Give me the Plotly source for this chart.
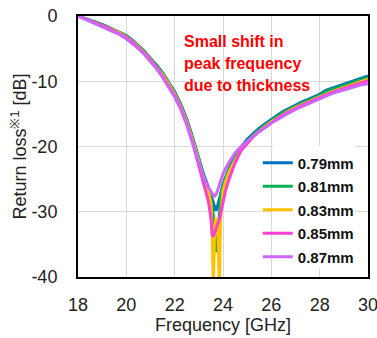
import plotly.graph_objects as go

freq = [18.0, 18.25, 18.5, 18.75, 19.0, 19.25, 19.5, 19.75, 20.0, 20.25, 20.5, 20.75,
        21.0, 21.25, 21.5, 21.75, 22.0, 22.25, 22.5, 22.75, 23.0,
        23.2, 23.4, 23.5, 23.55, 23.6, 23.65, 23.7, 23.75, 23.8, 23.85, 23.9, 24.0, 24.1,
        24.25, 24.5, 24.75, 25.0, 25.25, 25.5, 25.75, 26.0, 26.25, 26.5, 26.75, 27.0,
        27.25, 27.5, 27.75, 28.0, 28.25, 28.5, 28.75, 29.0, 29.25, 29.5, 29.75, 30.0]

rl_079 = [0.0, -0.3, -0.6, -0.95, -1.3, -1.7, -2.1, -2.5, -3.0, -3.7, -4.5, -5.4,
          -6.5, -7.5, -8.7, -10.1, -11.6, -13.5, -15.8, -18.7, -22.0,
          -24.3, -26.3, -27.5, -28.2, -28.8, -29.3, -29.8, -29.5, -28.7, -27.8, -27.0, -25.8, -24.8,
          -23.4, -21.6, -20.1, -18.9, -18.0, -17.2, -16.5, -15.8, -15.2, -14.6, -14.1, -13.6,
          -13.2, -12.8, -12.4, -12.0, -11.4, -11.1, -10.8, -10.5, -10.1, -9.8, -9.5, -9.2]

rl_081 = [0.0, -0.3, -0.65, -1.0, -1.35, -1.75, -2.15, -2.6, -3.1, -3.8, -4.6, -5.5,
          -6.6, -7.6, -8.8, -10.2, -11.8, -13.7, -16.0, -18.9, -22.2,
          -24.5, -26.7, -28.0, -29.0, -30.5, -33.0, -35.5, -36.2, -33.0, -29.5, -27.5, -26.0, -25.0,
          -23.6, -21.8, -20.3, -19.1, -18.2, -17.4, -16.7, -16.0, -15.4, -14.8, -14.3, -13.8,
          -13.4, -13.0, -12.6, -12.2, -11.6, -11.3, -11.0, -10.7, -10.3, -10.0, -9.7, -9.4]

rl_083 = [0.0, -0.35, -0.7, -1.05, -1.4, -1.8, -2.2, -2.65, -3.2, -3.9, -4.7, -5.6,
          -6.7, -7.8, -9.0, -10.4, -12.0, -13.9, -16.2, -19.1, -22.5,
          -24.8, -27.0, -28.6, -33.0, -41.5, -33.5, -31.0, -31.5, -34.5, -41.5, -31.0, -26.8, -25.4,
          -23.9, -22.1, -20.6, -19.4, -18.4, -17.6, -16.9, -16.2, -15.6, -15.0, -14.5, -14.0,
          -13.6, -13.2, -12.8, -12.4, -11.9, -11.6, -11.3, -11.0, -10.6, -10.3, -10.0, -9.7]

rl_085 = [0.0, -0.35, -0.7, -1.1, -1.45, -1.85, -2.3, -2.75, -3.3, -4.0, -4.8, -5.7,
          -6.8, -7.9, -9.2, -10.6, -12.2, -14.1, -16.5, -19.5, -23.0,
          -25.5, -28.5, -31.0, -33.5, -33.8, -33.2, -32.6, -32.0, -31.6, -31.2, -30.3, -28.3, -26.8,
          -25.0, -22.5, -20.6, -19.5, -18.5, -17.7, -17.0, -16.3, -15.7, -15.1, -14.6, -14.1,
          -13.7, -13.3, -12.9, -12.5, -12.0, -11.7, -11.4, -11.1, -10.8, -10.5, -10.2, -9.9]

rl_087 = [0.0, -0.4, -0.8, -1.2, -1.6, -2.0, -2.45, -2.9, -3.5, -4.2, -5.0, -5.9,
          -7.0, -8.1, -9.4, -10.8, -12.4, -14.3, -16.7, -19.6, -22.6,
          -24.8, -26.3, -27.0, -27.3, -27.5, -27.6, -27.4, -27.0, -26.4, -25.8, -25.2, -24.2, -23.4,
          -22.4, -21.0, -20.0, -19.2, -18.4, -17.7, -17.1, -16.4, -15.9, -15.3, -14.8, -14.3,
          -13.9, -13.5, -13.1, -12.7, -12.2, -11.9, -11.6, -11.3, -11.0, -10.7, -10.5, -10.4]

series_names = ["0.79mm", "0.81mm", "0.83mm", "0.85mm", "0.87mm"]
series_values = [rl_079, rl_081, rl_083, rl_085, rl_087]
series_colors = ["#0070C0", "#00B050", "#FFC000", "#FF3FCF", "#CC66FF"]

note_lines = ["Small shift in", "peak frequency", "due to thickness"]

x_ticks = [18, 20, 22, 24, 26, 28, 30]
y_ticks = [0, -10, -20, -30, -40]

FONT = "Arial, Liberation Sans, sans-serif"

fig = go.Figure()
for i, (name, vals, col) in enumerate(zip(series_names, series_values, series_colors)):
    fig.add_trace(go.Scatter(
        x=freq, y=vals, name=name, mode="lines",
        line=dict(color=col, width=3),
        legendgroup=f"g{i}",
    ))

note_y = [0.904, 0.818, 0.732]
for txt, yy in zip(note_lines, note_y):
    fig.add_annotation(
        text=txt, x=0.359, y=yy, xref="paper", yref="paper",
        xanchor="left", yanchor="middle", showarrow=False,
        font=dict(family=FONT, size=16, color="#FF0000", weight="bold"),
    )

# white box behind legend
fig.add_shape(type="rect", xref="paper", yref="paper",
              x0=0.672, x1=0.955, y0=0.034, y1=0.502,
              fillcolor="white", line=dict(width=0), layer="above")

fig.update_layout(
    width=377, height=338,
    margin=dict(l=78, r=9, t=16, b=61, autoexpand=False),
    paper_bgcolor="white", plot_bgcolor="white",
    font=dict(family=FONT, size=18, color="#222222"),
    showlegend=True,
    legend=dict(
        x=0.62, y=0.5, xanchor="left", yanchor="top",
        bgcolor="rgba(0,0,0,0)", borderwidth=0,
        font=dict(family=FONT, size=15, color="#111111", weight="bold"),
        tracegroupgap=1, itemwidth=30,
    ),
    xaxis=dict(
        range=[18, 30], tickvals=x_ticks, ticktext=[str(v) for v in x_ticks],
        showgrid=True, gridcolor="#D9D9D9", gridwidth=1,
        showline=True, linecolor="black", linewidth=2, mirror=True,
        ticks="", ticklabelstandoff=10, ticklabeloverflow="allow",
        zeroline=False, automargin=False,
        title=dict(text="Frequency [GHz]", standoff=0, font=dict(size=18)),
        tickfont=dict(size=18),
    ),
    yaxis=dict(
        range=[-40, 0], tickvals=y_ticks, ticktext=[str(v) for v in y_ticks],
        showgrid=True, gridcolor="#D9D9D9", gridwidth=1,
        showline=True, linecolor="black", linewidth=2, mirror=True,
        ticks="", ticklabelstandoff=15, ticklabeloverflow="allow",
        zeroline=False, automargin=False,
        title=dict(text="Return loss<sup>※1</sup> [dB]", standoff=0, font=dict(size=18)),
        tickfont=dict(size=18),
    ),
)

fig.write_html("out.html", config={"displayModeBar": False},
               post_script="document.body.style.margin='0';")
